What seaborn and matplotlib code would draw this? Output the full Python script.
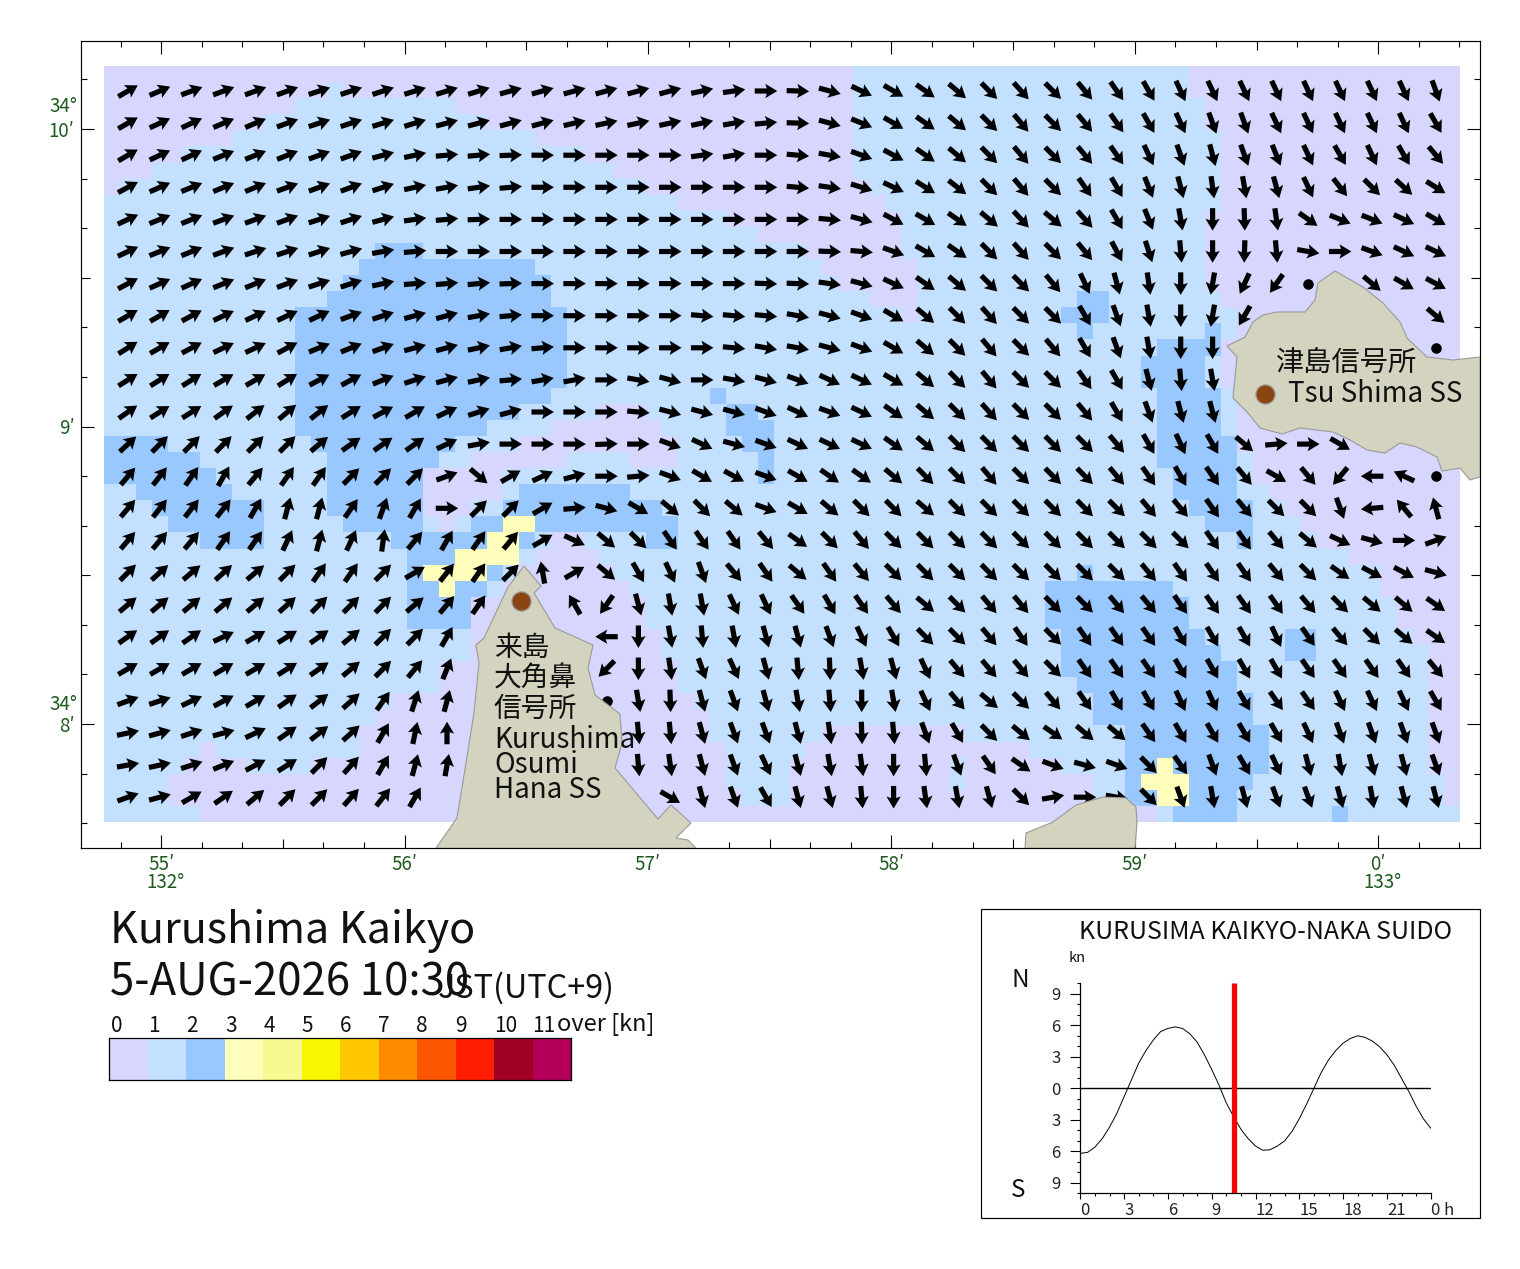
import numpy as np
import matplotlib
matplotlib.use("Agg")
import matplotlib.pyplot as plt
from matplotlib.colors import ListedColormap
from matplotlib.patches import Polygon, Rectangle
from matplotlib.ticker import MultipleLocator, FixedLocator
import seaborn as sns

sns.set_style("white")
plt.rcParams['font.family'] = ['Noto Sans CJK JP', 'DejaVu Sans']

W, H = 1520, 1269
N = np.nan
D = -1

SPEED_COLORS = ['#D7D6FE', '#C3E1FF', '#98C8FF', '#FFFFBB', '#F8F890', '#FAF500',
                '#FFC800', '#FF8C00', '#FA5500', '#FF1E00', '#A00023', '#B4005A']
SPEED_LABELS = ['0', '1', '2', '3', '4', '5', '6', '7', '8', '9', '10', '11']
SPEED_LABEL_PX = [117, 154, 192, 231, 269, 307, 346, 384, 422, 461, 506, 544]

# speed class runs, one row of the grid per string: class:end_column
SPEED_RUNS = [
    "0:47 1:68 0:85",
    "0:14 1:15 0:47 1:68 0:85",
    "0:12 1:22 0:47 1:69 0:85",
    "0:10 1:24 0:47 1:69 0:85",
    "0:8 1:27 0:47 1:70 0:85",
    "0:5 1:30 0:47 1:70 0:85",
    "0:3 1:32 0:47 1:70 0:85",
    "0:1 1:34 0:48 1:70 0:85",
    "1:36 0:49 1:70 0:85",
    "1:39 0:50 1:69 0:85",
    "1:41 0:50 1:69 0:85",
    "1:17 2:20 1:44 0:50 1:69 0:85",
    "1:16 2:27 1:45 0:51 1:69 0:85",
    "1:15 2:28 1:46 0:51 1:69 0:85",
    "1:14 2:28 1:48 0:51 1:61 2:63 1:70 0:85",
    "1:12 2:29 1:50 0:51 1:60 2:63 1:71 0:85",
    "1:12 2:29 1:61 2:62 1:69 2:70 1:71 0:85",
    "1:12 2:29 1:66 2:70 0:85",
    "1:12 2:29 1:65 2:69 1:70 0:85",
    "1:12 2:29 1:65 2:69 1:70 0:85",
    "1:12 2:28 1:38 2:39 1:66 2:70 1:71 0:85",
    "1:12 2:26 1:31 0:34 1:39 2:41 1:66 2:70 1:71 0:85",
    "1:12 2:24 1:28 0:35 1:39 2:42 1:66 2:70 1:71 0:85",
    "2:4 1:13 2:22 1:26 0:36 1:40 2:42 1:66 2:71 0:85",
    "2:6 1:14 2:21 1:23 0:29 1:33 0:36 1:41 2:42 1:66 2:71 1:72 0:85",
    "2:7 1:14 2:20 0:25 1:41 2:42 1:67 2:71 1:72 0:85",
    "1:2 2:8 1:14 2:20 0:25 1:26 2:33 1:67 2:71 1:73 0:85",
    "1:3 2:10 1:14 2:20 0:23 1:25 2:35 1:68 2:72 1:74 0:85",
    "1:4 2:10 1:15 2:20 1:21 0:22 1:23 2:25 3:27 2:36 1:69 2:72 1:75 0:85",
    "1:6 2:10 1:18 2:24 3:26 2:27 1:28 0:30 1:34 2:36 1:71 2:72 1:76 0:85",
    "1:19 2:22 3:26 1:27 0:31 1:78 0:85",
    "1:19 2:20 3:24 2:25 1:26 0:32 1:61 2:62 1:80 0:85",
    "1:19 2:21 3:22 2:24 1:25 0:33 1:59 2:67 1:80 0:85",
    "1:19 2:23 0:34 1:59 2:68 1:81 0:85",
    "1:19 2:23 0:34 1:59 2:68 1:81 0:85",
    "1:23 0:35 1:60 2:69 1:74 2:76 1:82 0:85",
    "1:23 0:35 1:60 2:70 1:74 2:76 1:83 0:85",
    "1:21 0:36 1:60 2:71 1:83 0:85",
    "1:21 0:36 1:61 2:71 1:83 0:85",
    "1:18 0:37 1:62 2:72 1:83 0:85",
    "1:17 0:38 1:62 2:72 1:83 0:85",
    "1:16 0:38 1:45 0:54 1:64 2:73 1:83 0:85",
    "1:6 0:7 1:16 0:39 1:44 0:58 1:64 2:73 1:83 0:85",
    "1:5 0:9 1:13 0:39 1:43 0:53 1:54 0:60 1:64 2:66 3:67 2:73 1:83 0:85",
    "1:4 0:39 1:43 0:53 1:54 0:62 1:64 2:65 3:68 2:72 1:84 0:85",
    "1:4 0:40 1:43 0:62 1:64 2:66 3:68 2:71 1:84 0:85",
    "1:6 0:66 1:67 2:71 1:77 2:78 1:85",
]

# flow direction at each arrow station, degrees clockwise from north
# N = no station (land), D = slack water drawn as a dot
FLOW_BEARING = [
    [60,67,70,70,70,70,72,72,72,73,73,73,75,75, 75,75,75,75,78,82,90,92,105,115,120,125,130,135,138, 135,140,145,150,155,155,155,155,155,155,155,155,160],
    [60,65,65,67,67,70,72,72,73,73,75,75,75,75, 77,78,78,78,78,80,85,92,105,112,120,125,130,135,140, 135,140,145,150,155,160,160,155,155,155,155,155,150],
    [60,65,65,68,68,68,70,70,75,78,85,85,88,90, 90,90,90,90,82,80,90,95,100,110,118,125,130,135,140, 135,140,145,155,160,165,160,158,155,150,155,150,140],
    [62,66,68,68,68,70,70,70,72,78,80,82,85,90, 90,90,90,90,90,90,90,95,98,107,115,122,128,135,140, 135,145,150,158,165,172,170,165,155,142,135,132,122],
    [65,68,68,70,70,70,72,72,75,82,85,88,90,90, 90,90,90,90,90,90,90,90,95,105,118,120,125,130,137, 130,138,150,158,170,180,178,172,125,112,112,115,120],
    [65,68,68,70,72,72,72,75,80,85,90,90,90,90, 90,90,90,90,90,90,90,90,92,95,110,120,125,135,138, 135,140,152,162,175,180,182,175,100,90,110,115,115],
    [62,66,66,68,68,70,72,72,78,85,85,85,88,90, 90,90,90,90,90,90,92,92,98,105,115,125,130,135,135, 140,155,165,172,180,190,205,215,D,N,130,120,118],
    [60,60,62,65,65,65,65,70,72,75,75,80,85,90, 90,90,90,90,95,95,95,100,105,110,120,130,135,138,135, 135,150,160,170,180,190,210,N,N,N,N,N,130],
    [58,60,62,65,65,62,68,68,70,75,75,78,80,85, 90,90,90,90,90,95,100,100,105,110,120,130,135,140,135, 140,150,160,170,180,180,N,N,N,N,N,N,D],
    [58,58,58,60,60,58,62,62,68,72,75,78,85,80, 80,90,100,105,90,100,105,110,115,115,120,130,135,140,135, 135,145,150,165,175,170,N,N,N,N,N,N,N],
    [55,58,58,55,52,50,52,58,62,60,65,72,75,90, 90,90,95,105,105,105,110,115,110,115,125,130,135,138,135, 135,140,150,160,165,165,N,N,N,N,N,N,N],
    [47,45,45,45,45,45,50,55,55,55,65,80,90,90, 90,88,90,110,115,105,110,115,115,115,125,130,135,135,135, 135,135,140,150,155,150,130,85,90,120,N,N,N],
    [40,38,35,30,40,35,35,45,45,45,70,130,60,65, 75,90,85,110,120,118,110,120,125,125,130,135,135,140,135, 135,135,140,145,150,145,140,120,140,220,270,295,D],
    [40,38,38,38,30,15,15,35,20,30,90,45,45,60, 85,105,120,130,135,130,110,120,130,135,135,130,135,135,135, 135,135,135,140,140,145,140,135,135,160,265,320,345],
    [40,40,40,35,35,25,15,25,8,40,30,35,40,60, 115,130,135,145,145,145,140,125,135,140,135,135,135,135,135, 135,135,135,135,135,145,145,140,130,115,105,90,70],
    [45,48,50,48,50,45,35,35,45,60,38,35,45,350, 60,130,150,155,160,140,145,130,145,140,135,135,135,135,135, 135,135,135,140,145,145,145,140,135,125,118,118,105],
    [50,50,50,50,50,48,45,45,45,50,40,35,N,N, 330,215,165,170,170,155,155,145,150,145,140,130,135,140,140, 135,135,140,140,145,145,145,145,140,135,130,130,125],
    [55,55,55,65,60,58,55,50,45,45,30,N,N,N, N,270,180,170,175,170,165,165,160,155,150,135,135,140,145, 135,145,145,145,150,150,150,155,145,140,135,130,125],
    [60,60,60,60,60,58,55,50,45,40,22,N,N,N, N,225,180,172,160,155,165,175,178,170,165,155,140,140,140, 135,145,145,145,150,150,150,150,145,145,145,145,140],
    [70,72,65,62,60,55,52,48,35,18,15,N,N,N, N,D,170,178,165,160,165,170,175,180,170,155,140,130,135, 140,145,150,150,155,155,150,145,145,155,155,155,150],
    [78,75,72,75,65,55,52,48,30,12,0,N,N,N, N,N,175,175,165,160,160,165,172,178,175,160,150,135,130, 125,130,130,145,150,150,150,150,155,160,160,160,160],
    [80,78,72,68,62,58,45,42,30,15,10,N,N,N, N,N,175,172,165,160,155,165,170,172,180,175,160,145,125, 110,105,110,135,145,160,150,155,165,170,165,165,160],
    [70,75,60,55,50,45,45,42,38,30,N,N,N,N, N,N,N,120,165,160,150,165,165,175,180,172,170,165,135, 80,90,100,135,160,170,165,160,160,165,170,165,165],
]

# traced coastlines, image pixels of the reference
KURUSHIMA_X = [524,541,534,555,593,588,595,620,622,615,658,671,691,676,688,696,436,457,466,474,479,476,484,508]
KURUSHIMA_Y = [566,586,593,628,645,668,695,714,743,768,819,805,823,838,840,848,848,818,763,713,663,645,638,587]
TSUSHIMA_X = [1227,1245,1253,1263,1277,1305,1315,1318,1335,1363,1383,1400,1407,1427,1453,1480,1480,1470,1460,1442,1437,1417,1400,1385,1367,1350,1333,1300,1282,1260,1248,1233,1237]
TSUSHIMA_Y = [346,337,322,315,312,312,300,283,271,287,303,322,338,357,360,357,477,480,468,471,457,447,443,453,450,440,432,428,434,428,413,398,357]
ISLET_X = [1025,1026,1053,1076,1103,1126,1136,1137,1135]
ISLET_Y = [848,833,822,805,797,798,807,823,848]
SIGNAL_X = [521, 1265]
SIGNAL_Y = [601, 394]

LON_LABELS = ['55′', '56′', '57′', '58′', '59′', '0′']
LON_TICKS = [55, 56, 57, 58, 59, 60]
LAT_LABELS = ['8′', '9′', '10′']
LAT_TICKS = [8, 9, 10]

TIDE_HOURS = np.arange(0, 24.5, 0.5)
TIDE_KN = [-6.2,-6.1,-5.6,-4.8,-3.7,-2.4,-0.8,0.8,2.4,3.6,4.6,5.4,5.7,5.85,5.7,5.2,4.4,3.2,1.8,0.3,
           -1.4,-2.7,-3.9,-4.8,-5.5,-5.9,-5.85,-5.5,-5.0,-4.1,-2.9,-1.5,0.0,1.5,2.7,3.6,4.3,4.75,5.0,4.85,
           4.5,3.95,3.2,2.2,0.95,-0.3,-1.7,-2.9,-3.8]
NOW_HOUR = 10.5
TIDE_XTICKS = [0, 3, 6, 9, 12, 15, 18, 21, 24]
TIDE_XLABELS = ['0', '3', '6', '9', '12', '15', '18', '21', '0 h']
TIDE_YTICKS = [-9, -6, -3, 0, 3, 6, 9]
TIDE_YLABELS = ['9', '6', '3', '0', '3', '6', '9']

GREEN = '#1E5A1E'


def rect(l, t, r, b):
    return [l / W, 1 - b / H, (r - l) / W, (b - t) / H]


def label(x, y, s, size, ha='left', va='center', color='#111111'):
    return fig.text(x / W, 1 - y / H, s, fontsize=size, ha=ha, va=va, color=color)


def lon_of(px):
    return 55 + (np.asarray(px, float) - 161.2) / 243.4


def lat_of(py):
    return 10 - (np.asarray(py, float) - 129.0) / 297.5


fig = plt.figure(figsize=(W / 100, H / 100), dpi=100, facecolor='white')

# speed grid
grid = np.zeros((len(SPEED_RUNS), 85))
for r, row in enumerate(SPEED_RUNS):
    start = 0
    for tok in row.split():
        v, e = tok.split(':')
        grid[r, start:int(e)] = int(v)
        start = int(e)
cmap = ListedColormap(SPEED_COLORS)
ax_grid = fig.add_axes(rect(104, 66, 1460, 822), zorder=1)
sns.heatmap(grid, ax=ax_grid, cmap=cmap, vmin=0, vmax=12, cbar=False,
            xticklabels=False, yticklabels=False)

# map frame
ax = fig.add_axes(rect(81, 41, 1480, 848), zorder=2)
ax.patch.set_alpha(0)
ax.set_xlim(lon_of(81), lon_of(1480))
ax.set_ylim(lat_of(848), lat_of(41))

bearing = np.array(FLOW_BEARING, float)
lon0, dlon = lon_of(128), 31.9 / 243.4
lat0, dlat = lat_of(91), 32.1 / 297.5
lons = lon0 + dlon * np.arange(bearing.shape[1])
lats = lat0 - dlat * np.arange(bearing.shape[0])
LON, LAT = np.meshgrid(lons, lats)
is_arrow = np.isfinite(bearing) & (bearing >= 0)
is_dot = bearing == D
th = np.deg2rad(bearing[is_arrow])
ax.quiver(LON[is_arrow], LAT[is_arrow], 22.5 * np.sin(th), 22.5 * np.cos(th),
          angles='uv', units='dots', scale_units='dots', scale=1, pivot='mid',
          width=5.2, headwidth=2.75, headlength=2.3, headaxislength=2.0,
          color='black', zorder=3)
ax.scatter(LON[is_dot], LAT[is_dot], s=58, color='black', linewidths=0, zorder=3)

for xs, ys in [(KURUSHIMA_X, KURUSHIMA_Y), (TSUSHIMA_X, TSUSHIMA_Y), (ISLET_X, ISLET_Y)]:
    ax.add_patch(Polygon(np.c_[lon_of(xs), lat_of(ys)], closed=True, facecolor='#D3D3BF',
                         edgecolor='#9A9A9A', linewidth=0.8, zorder=4))
ax.scatter(lon_of(SIGNAL_X), lat_of(SIGNAL_Y), s=190, color='#8B4513', edgecolors='#999999',
           linewidths=0.9, zorder=5)

ax.xaxis.set_major_locator(FixedLocator(LON_TICKS))
ax.yaxis.set_major_locator(FixedLocator(LAT_TICKS))
ax.set_xticklabels(LON_LABELS)
ax.set_yticklabels(LAT_LABELS)
ax.xaxis.set_minor_locator(MultipleLocator(1 / 6))
ax.yaxis.set_minor_locator(MultipleLocator(1 / 6))
ax.tick_params(which='both', direction='in', top=True, right=True, bottom=True, left=True,
               width=0.8, color='black')
ax.tick_params(which='major', length=9.4, labelsize=13.5, labelcolor=GREEN, pad=4.5)
ax.tick_params(which='minor', length=4.0)
for axis in (ax.xaxis, ax.yaxis):
    locs = axis.get_minorticklocs()
    for t, v in zip(axis.get_minor_ticks(len(locs)), locs):
        if abs((v % 1) - 0.5) < 0.01:
            t.tick1line.set_markersize(6.2)
            t.tick2line.set_markersize(6.2)
for s in ax.spines.values():
    s.set_linewidth(0.85)
    s.set_color('black')

label(166, 882, '132°', 13.5, ha='center', color=GREEN)
label(1382, 882, '133°', 13.5, ha='center', color=GREEN)
label(77, 107, '34°', 13.5, ha='right', color=GREEN)
label(77, 704, '34°', 13.5, ha='right', color=GREEN)

label(494, 648, '来島', 20)
label(494, 679, '大角鼻', 20)
label(494, 709, '信号所', 20)
label(494, 740, 'Kurushima', 20)
label(494, 765, 'Osumi', 20)
label(494, 790, 'Hana SS', 20)
label(1276, 364, '津島信号所', 20.3)
label(1288, 394, 'Tsu Shima SS', 20)

# headings
label(110, 931, 'Kurushima Kaikyo', 31)
label(110, 983, '5-AUG-2026 10:30', 31.5)
label(438, 988, 'JST(UTC+9)', 23.3)

# colour key
ax_key = fig.add_axes(rect(109, 1037.5, 571.5, 1079.5), zorder=1)
sns.heatmap(np.arange(12).reshape(1, 12), ax=ax_key, cmap=cmap, vmin=0, vmax=12, cbar=False,
            xticklabels=False, yticklabels=False)
for s in ax_key.spines.values():
    s.set_visible(True)
    s.set_linewidth(0.9)
    s.set_color('black')
for px_x, s in zip(SPEED_LABEL_PX, SPEED_LABELS):
    label(px_x, 1026, s, 15, ha='center')
label(557, 1025, 'over [kn]', 17)

# tide panel
fig.add_artist(Rectangle((981 / W, 1 - 1218 / H), 499 / W, 309 / H, transform=fig.transFigure,
                         facecolor='white', edgecolor='black', linewidth=0.85, zorder=0))
ax_t = fig.add_axes(rect(1080.3, 983.3, 1430.7, 1193.3), zorder=2)
ax_t.patch.set_alpha(0)
sns.lineplot(x=TIDE_HOURS, y=TIDE_KN, ax=ax_t, color='black', linewidth=0.7, errorbar=None)
ax_t.axhline(0, color='black', linewidth=1.0)
ax_t.axvline(NOW_HOUR, color='#FF0000', linewidth=3.8, solid_capstyle='butt')
ax_t.set_xlim(0, 24)
ax_t.set_ylim(-10, 10)
sns.despine(ax=ax_t)
ax_t.set_xticks(TIDE_XTICKS)
ax_t.set_xticklabels(TIDE_XLABELS, ha='left')
ax_t.set_yticks(TIDE_YTICKS)
ax_t.set_yticklabels(TIDE_YLABELS)
ax_t.xaxis.set_minor_locator(MultipleLocator(1))
ax_t.yaxis.set_minor_locator(MultipleLocator(1))
ax_t.tick_params(which='both', direction='out', width=0.8, color='black', bottom=True, left=True)
ax_t.tick_params(axis='x', which='major', length=4.5, labelsize=12, pad=2, labelcolor='#222222')
ax_t.tick_params(axis='y', which='major', length=7, labelsize=12, pad=7, labelcolor='#222222')
ax_t.tick_params(axis='x', which='minor', length=2)
ax_t.tick_params(axis='y', which='minor', length=2.5)
for s in ax_t.spines.values():
    s.set_linewidth(0.9)
    s.set_color('black')

label(1079, 932, 'KURUSIMA KAIKYO-NAKA SUIDO', 18)
label(1069, 958, 'kn', 10.5)
label(1011, 980, 'N', 17.5)
label(1011, 1190, 'S', 17.5)

fig.savefig('out.png', dpi=100, facecolor='white')
